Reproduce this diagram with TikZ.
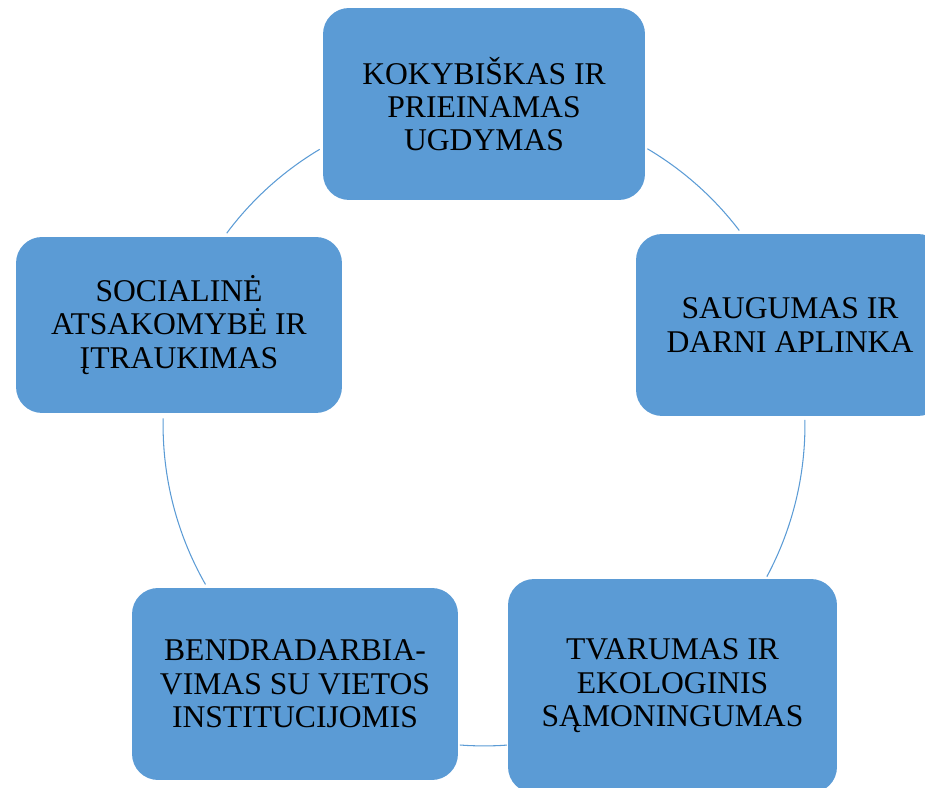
\documentclass[tikz,border=0pt]{standalone}
\usepackage{fontspec}
\setmainfont{Liberation Serif}
\definecolor{boxblue}{HTML}{5B9BD5}
\tikzset{
    goal/.style={fill=boxblue, rounded corners=0.52cm, align=center, inner sep=0pt,
        font=\fontsize{18}{19}\selectfont},
    ring/.style={draw=boxblue, line width=0.6pt}
}
\begin{document}
\begin{tikzpicture}[x=0.02cm,y=0.02cm]
		\useasboundingbox (0,0) rectangle (925,787);
		\clip (0,0) rectangle (925,787);

		\coordinate (c) at (484,362);

		% arcs of the cycle, between neighbouring boxes
		\foreach \from/\to in {59.4/37.3, 0.9/-28.2, -85.9/-94.3, 178.8/209.8, 120.8/143.3}
			\draw[ring] (c) ++(\from:6.42cm) arc[start angle=\from, end angle=\to, radius=6.42cm];

		\node[goal, minimum width=6.44cm, minimum height=3.84cm] (ugdymas) at (484,683)
			{KOKYBIŠKAS IR\\PRIEINAMAS\\UGDYMAS};
		\node[goal, minimum width=6.16cm, minimum height=3.64cm] (aplinka) at (790,462)
			{SAUGUMAS IR\\DARNI APLINKA};
		\node[goal, minimum width=6.58cm, minimum height=4.28cm] (tvarumas) at (672.5,101)
			{TVARUMAS IR\\EKOLOGINIS\\SĄMONINGUMAS};
		\node[goal, minimum width=6.52cm, minimum height=3.84cm] (bendradarbiavimas) at (295,103)
			{BENDRADARBIA-\\VIMAS SU VIETOS\\INSTITUCIJOMIS};
		\node[goal, minimum width=6.52cm, minimum height=3.52cm] (itraukimas) at (179,462)
			{SOCIALINĖ\\ATSAKOMYBĖ IR\\ĮTRAUKIMAS};
\end{tikzpicture}
\end{document}
